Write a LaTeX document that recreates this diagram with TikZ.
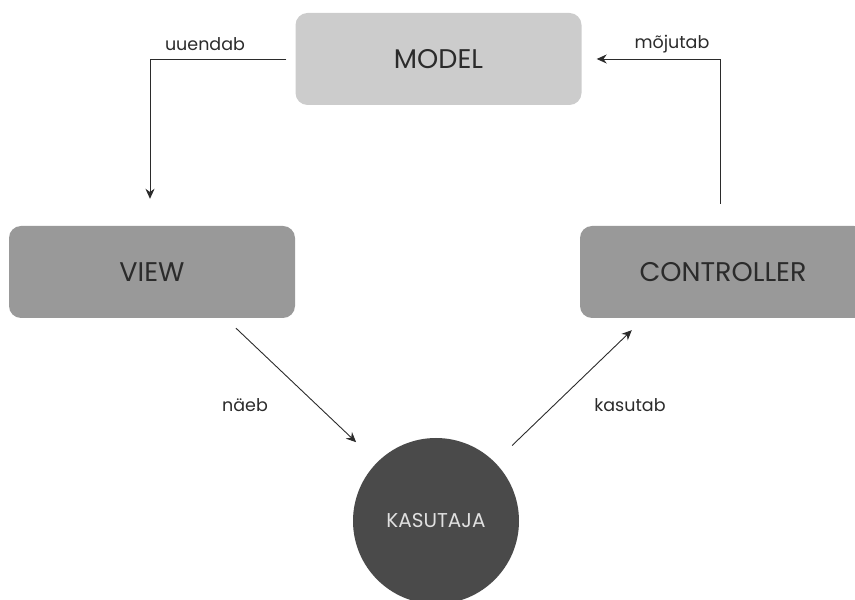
\documentclass[tikz,border=0pt]{standalone}
\usepackage{fontspec}
\setmainfont{Poppins}
\usetikzlibrary{arrows.meta}

\definecolor{modelgray}{HTML}{CCCCCC}
\definecolor{boxgray}{HTML}{999999}
\definecolor{usergray}{HTML}{4A4A4A}
\definecolor{textgray}{HTML}{2B2B2B}

\tikzset{
    part/.style={rounded corners=12pt, minimum width=286pt, minimum height=92pt,
        text=textgray, font=\fontsize{27}{27}\selectfont},
    flow/.style={-{Stealth[length=10pt,width=9pt]}, line width=0.9pt, textgray},
    verb/.style={text=textgray, font=\fontsize{17.5}{17.5}\selectfont}
}

\begin{document}
\begin{tikzpicture}[x=1pt,y=1pt]
    \useasboundingbox (0,0) rectangle (855,600);
    \clip (0,0) rectangle (855,600);

    % Boxes
    \node[part, fill=modelgray] (model) at (438.5,541) {MODEL};
    \node[part, fill=boxgray] (view) at (152,328) {VIEW};
    \node[part, fill=boxgray] (controller) at (723,328) {CONTROLLER};

    % User circle
    \node[circle, fill=usergray, minimum size=166pt, text=white!88!black,
        font=\fontsize{20}{20}\selectfont] (user) at (436,79) {KASUTAJA};

    % Connectors
    \draw[flow] ([xshift=-9pt]model.west) -| ([xshift=-2pt,yshift=27pt]view.north);
    \draw[flow] ([xshift=-3pt,yshift=22pt]controller.north) |- ([xshift=15pt]model.east);
    \draw[flow, shorten >=29pt] ([xshift=84pt,yshift=-10pt]view.south) -- (user.135);
    \draw[flow, shorten <=24pt] (user.45) -- ([xshift=52pt,yshift=-12pt]controller.south west);

    % Labels
    \node[verb] (uuendab) at (205,556) {uuendab};
    \node[verb] (mojutab) at (672,556) {mõjutab};
    \node[verb] (naeb) at (245,195) {näeb};
    \node[verb] (kasutab) at (630,195) {kasutab};
\end{tikzpicture}
\end{document}
